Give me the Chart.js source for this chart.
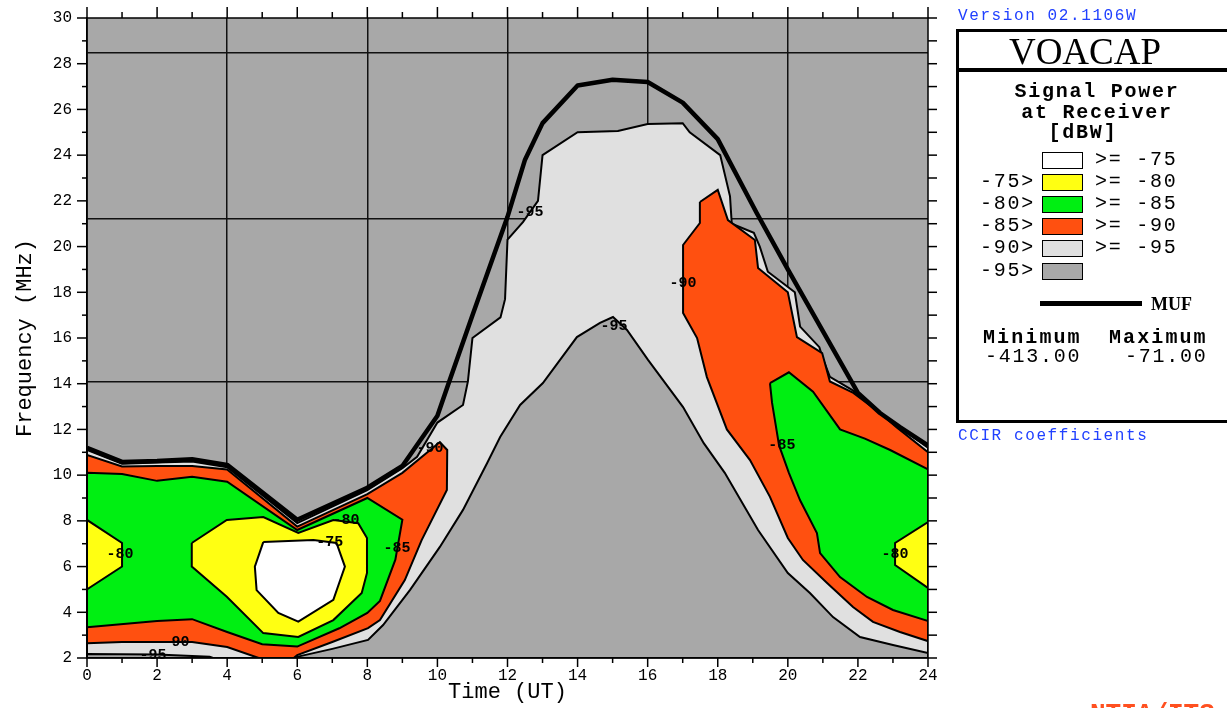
<!DOCTYPE html>
<html><head><meta charset="utf-8">
<script src="https://cdn.jsdelivr.net/npm/chart.js@4"></script>
<style>
html,body{margin:0;padding:0;background:#fff;}
body{width:1227px;height:708px;overflow:hidden;position:relative;font-family:'Liberation Mono',monospace;color:#000;}
#wrap{position:absolute;left:0;top:0;width:1227px;height:708px;}
.t{position:absolute;white-space:pre;line-height:1;transform:translateY(-50%);}
.c{position:absolute;white-space:pre;line-height:1;transform:translate(-50%,-50%);}
.blue{color:#2040ff;font-size:16px;letter-spacing:1.6px;}
.serif{font-family:'Liberation Serif',serif;font-size:37px;}
.hb{font-weight:bold;font-size:20px;letter-spacing:1.75px;}
.lg{font-size:20px;letter-spacing:1.75px;}
.sw{position:absolute;left:1042px;width:41px;height:17px;border:1.5px solid #000;box-sizing:border-box;}
</style></head><body>
<div id="wrap"><canvas id="c" width="1227" height="708"></canvas></div>

<div class="t blue" style="left:958px;top:16px">Version 02.1106W</div>
<div style="position:absolute;left:956px;top:29px;width:300px;height:394px;border:3px solid #000;box-sizing:border-box"></div>
<div style="position:absolute;left:956px;top:68px;width:300px;height:4px;background:#000"></div>
<div class="c serif" style="left:1085px;top:51px">VOACAP</div>
<div class="c hb" style="left:1097px;top:92px">Signal Power</div>
<div class="c hb" style="left:1097px;top:113px">at Receiver</div>
<div class="c hb" style="left:1083px;top:133px">[dBW]</div>
<div id="legendRows"></div>
<div style="position:absolute;left:1040px;top:301px;width:102px;height:5px;background:#000"></div>
<div class="t" style="left:1151px;top:304px;font-family:'Liberation Serif',serif;font-weight:bold;font-size:18px">MUF</div>
<div class="t hb" style="left:983px;top:338px;letter-spacing:2.1px">Minimum</div>
<div class="t hb" style="left:1109px;top:338px;letter-spacing:2.1px">Maximum</div>
<div class="t lg" style="left:985px;top:357px">-413.00</div>
<div class="t lg" style="left:1125px;top:357px">-71.00</div>
<div class="t blue" style="left:958px;top:436px">CCIR coefficients</div>
<div style="position:absolute;left:1090px;top:701px;font-weight:bold;font-size:26px;line-height:1;color:#ff5020;white-space:pre">NTIA/ITS</div>

<script>
// ---------- data ----------
const hourTicks = [0,2,4,6,8,10,12,14,16,18,20,22,24];
const freqTicks = [2,4,6,8,10,12,14,16,18,20,22,24,26,28,30];
const planFreqs = [3.6, 7.2, 14.1, 21.2, 28.5];
const gridHours = [4, 8, 12, 16, 20];

// [hour UT, MHz]
const mufCurve = [[0,11.2],[1,10.58],[2,10.62],[3,10.7],[4,10.45],[6,8.05],[8,9.45],[9,10.4],[10,12.6],[10.36,14.2],[11,17.0],[12,21.3],[12.5,23.8],[13,25.4],[14,27.05],[15,27.3],[16,27.2],[17,26.3],[18,24.7],[19.1,21.5],[20,19.0],[21,16.3],[22,13.6],[22.63,12.72],[23.2,12.1],[24,11.3]];

const ge95Region = [[0,11.1],[1,10.5],[2,10.55],[3,10.6],[4,10.35],[6,7.9],[8,9.35],[9,10.3],[9.42,10.8],[10,12.3],[10.73,13.07],[10.87,14.1],[11.0,16.0],[11.8,16.9],[11.93,17.7],[12.0,20.3],[12.44,21.07],[12.87,22.0],[13.0,24.0],[14.0,25.0],[15.15,25.06],[16.0,25.36],[17.0,25.4],[17.2,25.0],[18.07,24.0],[18.35,22.2],[18.4,21.0],[19.03,20.6],[19.2,20.0],[19.43,18.9],[20.2,18.0],[20.35,16.5],[20.9,15.6],[21.0,15.1],[21.2,14.3],[21.83,13.73],[22.55,12.85],[23.0,12.28],[24,11.2],[24,2],[0,2]];

const below95Dome = [[5.9,2.0],[6.02,2.06],[7,2.4],[8.02,2.79],[8.45,3.44],[9.22,4.98],[10.07,6.86],[10.73,8.48],[11.42,10.53],[11.79,11.67],[12.36,13.07],[13.01,14.03],[13.98,16.04],[14.64,16.66],[15.01,16.92],[15.41,16.35],[16.01,15.04],[17.01,12.98],[17.6,11.4],[18.2,10.1],[19.15,7.6],[20.0,5.72],[20.63,4.84],[21.29,3.79],[22.06,2.92],[23.0,2.57],[24,2.22],[24,2.0]];
const below95Strip = [[0,2.0],[0,2.17],[2,2.15],[3.5,2.05],[3.6,2.0]];

const ge90Left = [[0,10.88],[1,10.38],[2,10.4],[3,10.4],[4,10.25],[6,7.75],[8,9.17],[9,10.1],[10.07,11.45],[10.28,11.1],[10.27,9.35],[9.55,7.16],[9.07,5.41],[8.36,3.66],[8.02,3.31],[7,2.7],[6,2.13],[5.9,2.0],[4.9,2.0],[4,2.48],[3,2.7],[1,2.7],[0,2.65]];
const ge90Right = [[17.49,21.95],[18.0,22.48],[18.29,21.16],[19.06,20.29],[19.15,19.06],[20.0,18.0],[20.26,16.04],[20.98,15.34],[21.2,14.1],[21.87,13.6],[22.63,12.72],[23.1,12.1],[24,11.0],[24,2.74],[23.2,3.14],[22.43,3.58],[21.86,4.23],[21.12,5.28],[20.43,6.29],[20.0,7.25],[19.49,9.05],[18.92,10.66],[18.26,12.0],[17.69,14.29],[17.41,16.0],[17.01,17.09],[17.01,20.07],[17.49,21.03]];

const ge85Left = [[0,10.1],[1,10.05],[2,9.75],[3,9.93],[4,9.71],[6,7.6],[8,9.0],[9,8.05],[8.8,6.3],[8.36,4.5],[8.0,3.97],[7.2,3.3],[6,2.5],[5,2.6],[4,3.14],[3,3.7],[2,3.62],[0,3.35]];
const ge85Right = [[19.49,14.03],[20.03,14.5],[20.72,13.65],[21.49,12.0],[22.2,11.6],[22.92,11.1],[24,10.25],[24,3.62],[23.0,4.1],[22.26,4.67],[21.49,5.54],[20.92,6.59],[20.83,7.47],[20.35,8.9],[20.03,10.1],[19.75,11.3],[19.55,13.16]];

const ge80Left = [[0,8.04],[1,7.03],[1,6.0],[0,5.0]];
const ge80Ring = [[2.99,7.03],[3.99,8.04],[5.03,8.17],[6.03,7.47],[7.03,8.04],[7.74,7.9],[7.99,7.25],[7.99,5.72],[7.84,4.84],[7.03,3.66],[6.03,2.92],[5.03,3.09],[3.99,4.68],[2.99,6.0]];
const ge80Right = [[24,7.95],[23.06,7.03],[23.06,6.07],[24,5.06]];

const ge75Core = [[5.03,7.07],[6.46,7.16],[7.12,7.03],[7.36,6.0],[7.03,4.54],[6.03,3.59],[5.46,3.97],[4.84,4.97],[4.79,6.0]];

const contourLabels = ['-95','-90','-80','-80','-75','-85','-90','-95','-95','-90','-85','-80'];
const labelHours   = [1.88, 2.54, 0.94, 7.39, 6.93, 8.85, 9.79, 12.64, 15.04, 17.01, 19.83, 23.06];
const labelFreqs   = [2.13, 2.7, 6.55, 8.04, 7.07, 6.8, 11.19, 21.5, 16.52, 18.4, 11.32, 6.55];

const legendLeft  = ['', '-75>', '-80>', '-85>', '-90>', '-95>'];
const legendRight = ['>= -75', '>= -80', '>= -85', '>= -90', '>= -95', ''];

// ---------- styles ----------
const C = {white:'#ffffff', yellow:'#ffff12', green:'#00ef12', orange:'#ff5010', light:'#e0e0e0', dark:'#a8a8a8'};
const legendColors = [C.white, C.yellow, C.green, C.orange, C.light, C.dark];
const rowY = [160,182,204,226,248,271];

const rows = document.getElementById('legendRows');
legendColors.forEach((col,i)=>{
  const s = document.createElement('div'); s.className='sw'; s.style.top=(rowY[i]-8)+'px'; s.style.background=col; rows.appendChild(s);
  if (legendLeft[i]) { const l=document.createElement('div'); l.className='t lg'; l.style.right=(1227-1035)+'px'; l.style.top=rowY[i]+'px'; l.textContent=legendLeft[i]; rows.appendChild(l); }
  if (legendRight[i]) { const r=document.createElement('div'); r.className='t lg'; r.style.left='1095px'; r.style.top=rowY[i]+'px'; r.textContent=legendRight[i]; rows.appendChild(r); }
});

function poly(points, color, order) {
  const d = points.map(p => ({x:p[0], y:p[1]}));
  d.push({x:points[0][0], y:points[0][1]});
  return {data:d, backgroundColor:color, borderColor:'#000', borderWidth:2, fill:'shape', pointRadius:0, order:order, tension:0};
}

const datasets = [
  poly(ge95Region, C.light, 10),
  poly(below95Dome, C.dark, 9),
  poly(below95Strip, C.dark, 9),
  poly(ge90Left, C.orange, 8),
  poly(ge90Right, C.orange, 8),
  poly(ge85Left, C.green, 7),
  poly(ge85Right, C.green, 7),
  poly(ge80Left, C.yellow, 6),
  poly(ge80Ring, C.yellow, 6),
  poly(ge80Right, C.yellow, 6),
  poly(ge75Core, C.white, 5),
  {data: mufCurve.map(p=>({x:p[0],y:p[1]})), borderColor:'#000', borderWidth:4.5, fill:false, pointRadius:0, order:0, tension:0, borderJoinStyle:'round'}
];

const deco = {
  id:'deco',
  beforeDraw(chart){
    const {ctx, chartArea:a} = chart;
    ctx.save(); ctx.fillStyle = C.dark; ctx.fillRect(a.left, a.top, a.right-a.left, a.bottom-a.top); ctx.restore();
  },
  afterDraw(chart){
    const {ctx, chartArea:a, scales:{x, y}} = chart;
    ctx.save();
    ctx.font = 'bold 15px "Liberation Mono"';
    ctx.fillStyle = '#000'; ctx.textAlign = 'center'; ctx.textBaseline = 'middle';
    contourLabels.forEach((t,i)=> ctx.fillText(t, x.getPixelForValue(labelHours[i]), y.getPixelForValue(labelFreqs[i])));
    ctx.strokeStyle = '#000'; ctx.lineWidth = 1.5;
    ctx.strokeRect(a.left, a.top, a.right-a.left, a.bottom-a.top);
    const seg = (x1,y1,x2,y2)=>{ctx.beginPath(); ctx.moveTo(x1,y1); ctx.lineTo(x2,y2); ctx.stroke();};
    for (let h = 0; h <= 24; h++) {
      const px = x.getPixelForValue(h);
      seg(px, a.bottom, px, a.bottom + (h % 2 === 0 ? 9 : 5));
      seg(px, a.top, px, a.top - (h % 2 === 0 ? 11 : 6));
    }
    for (let f = 2; f <= 30; f++) {
      const py = y.getPixelForValue(f);
      seg(a.left - (f % 2 === 0 ? 10 : 5), py, a.left, py);
      seg(a.right, py, a.right + 9, py);
    }
    ctx.restore();
  }
};

new Chart(document.getElementById('c'), {
  type: 'line',
  data: {datasets},
  plugins: [deco],
  options: {
    responsive: false,
    animation: false,
    events: [],
    layout: {padding: {left:0, top:18, right:299, bottom:0}},
    plugins: {legend:{display:false}, tooltip:{enabled:false}},
    scales: {
      x: {
        type:'linear', position:'bottom', min:0, max:24, z:1,
        afterBuildTicks: s => { s.ticks = hourTicks.map(v => ({value:v})); },
        afterFit: s => { s.height = 50; s.paddingLeft = 0; s.paddingRight = 0; },
        ticks: {autoSkip:false, maxRotation:0, padding:8, color:'#000', font:{family:'Liberation Mono', size:16}},
        grid: {drawTicks:false, lineWidth:1.5, color: c => (c.tick && gridHours.includes(c.tick.value)) ? '#111' : 'rgba(0,0,0,0)'},
        border: {color:'#000', width:1.5},
        title: {display:true, text:'Time (UT)', color:'#000', font:{family:'Liberation Mono', size:22}, padding:{top:0, bottom:3}}
      },
      y: {
        type:'linear', position:'left', min:2, max:30, z:1,
        afterBuildTicks: s => { s.ticks = freqTicks.concat(planFreqs).sort((a,b)=>a-b).map(v => ({value:v})); },
        afterFit: s => { s.width = 87; s.paddingTop = 0; s.paddingBottom = 0; },
        ticks: {autoSkip:false, padding:15, color:'#000', font:{family:'Liberation Mono', size:16},
                callback: v => freqTicks.includes(v) ? String(v) : ''},
        grid: {drawTicks:false, lineWidth:1.5, color: c => (c.tick && planFreqs.includes(c.tick.value)) ? '#111' : 'rgba(0,0,0,0)'},
        border: {color:'#000', width:1.5},
        title: {display:true, text:'Frequency (MHz)', color:'#000', font:{family:'Liberation Mono', size:22}, padding:{top:12, bottom:0}}
      }
    }
  }
});
</script>
</body></html>
